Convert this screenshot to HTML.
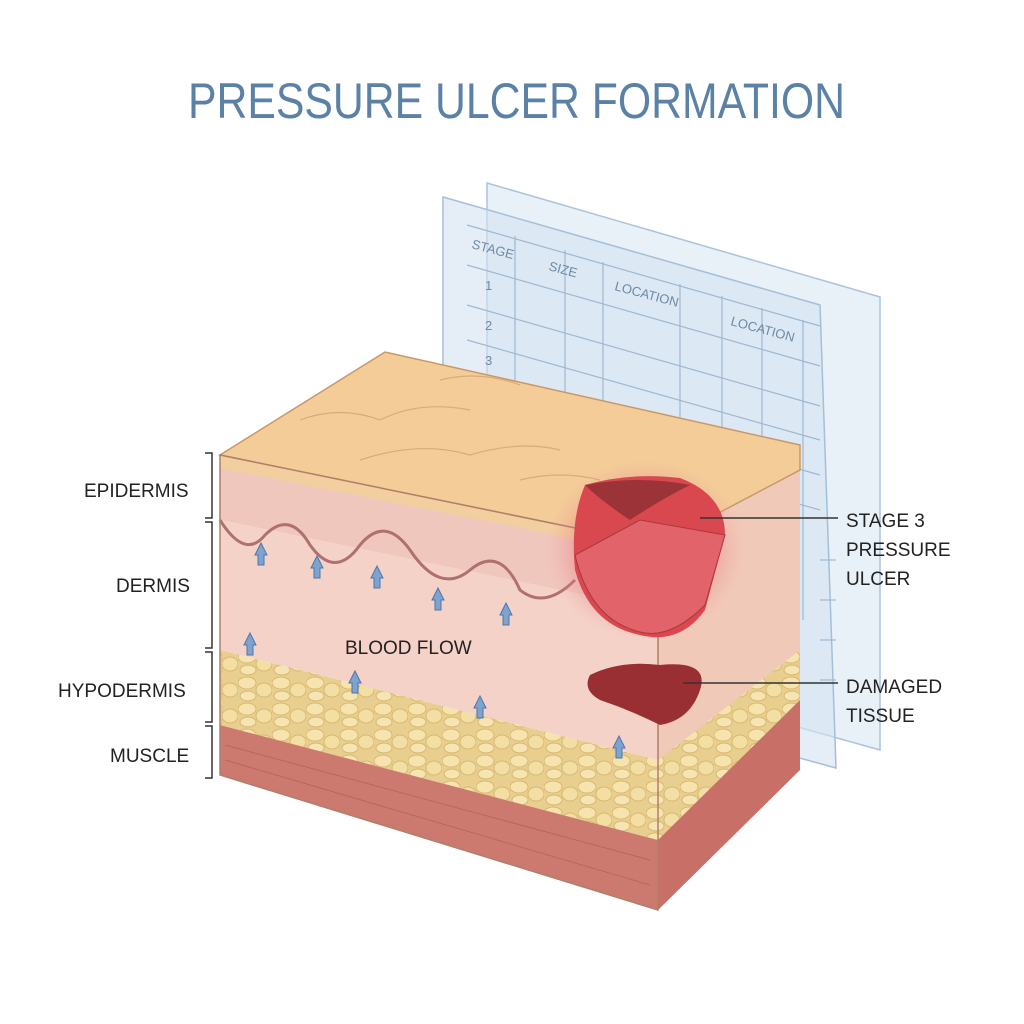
<!DOCTYPE html>
<html><head><meta charset="utf-8"><style>
body{margin:0;background:#fff;}
svg{display:block}
text{font-family:"Liberation Sans",sans-serif;}
</style></head><body>
<svg width="1024" height="1024" viewBox="0 0 1024 1024" xmlns="http://www.w3.org/2000/svg">
<defs>
<radialGradient id="ulc" cx="0.5" cy="0.5" r="0.5">
<stop offset="0" stop-color="#e0414a" stop-opacity="0.85"/>
<stop offset="0.6" stop-color="#e8646a" stop-opacity="0.5"/>
<stop offset="1" stop-color="#f0a0a0" stop-opacity="0"/>
</radialGradient>
<pattern id="fat" width="34" height="26" patternUnits="userSpaceOnUse">
<rect width="34" height="26" fill="#e9cf8f"/>
<ellipse cx="9" cy="7" rx="9" ry="6" fill="#f6e3ad" stroke="#d8b870" stroke-width="1"/>
<ellipse cx="26" cy="14" rx="8" ry="7" fill="#f3dea4" stroke="#d8b870" stroke-width="1"/>
<ellipse cx="10" cy="20" rx="8" ry="5" fill="#f6e5b2" stroke="#d8b870" stroke-width="1"/>
</pattern>
</defs>
<rect width="1024" height="1024" fill="#fff"/>
<text x="188" y="118" textLength="657" lengthAdjust="spacingAndGlyphs" font-size="50" fill="#5b82a6">PRESSURE ULCER FORMATION</text>

<!-- sheets -->
<polygon points="487,183 880,297 880,750 487,640" fill="#dbe7f3" fill-opacity="0.6" stroke="#aac4dc" stroke-width="1.5"/>
<polygon points="443,197 820,305 836,768 443,660" fill="#d4e3f1" fill-opacity="0.6" stroke="#a5bfd8" stroke-width="1.5"/>
<g stroke="#9fb8d2" stroke-width="1.2" fill="none">
<line x1="467" y1="225" x2="820" y2="326"/>
<line x1="467" y1="265" x2="820" y2="366"/>
<line x1="467" y1="305" x2="820" y2="406"/>
<line x1="467" y1="340" x2="820" y2="440"/>
<line x1="467" y1="375" x2="820" y2="475"/>
<line x1="467" y1="410" x2="820" y2="510"/>
<line x1="515" y1="236" x2="515" y2="400"/>
<line x1="565" y1="250" x2="565" y2="400"/>
<line x1="603" y1="262" x2="603" y2="420"/>
<line x1="680" y1="284" x2="680" y2="440"/>
<line x1="722" y1="296" x2="722" y2="460"/>
<line x1="762" y1="308" x2="762" y2="470"/>
<line x1="803" y1="320" x2="803" y2="620"/>
<line x1="820" y1="560" x2="836" y2="560"/>
<line x1="820" y1="600" x2="836" y2="600"/>
<line x1="820" y1="640" x2="836" y2="640"/>
<line x1="820" y1="680" x2="836" y2="680"/>
</g>
<g fill="#6f8aa6" font-size="13">
<text x="471" y="248" transform="rotate(15 471 248)">STAGE</text>
<text x="548" y="270" transform="rotate(15 548 270)">SIZE</text>
<text x="614" y="290" transform="rotate(15 614 290)">LOCATION</text>
<text x="730" y="325" transform="rotate(15 730 325)">LOCATION</text>
<text x="485" y="290">1</text><text x="485" y="330">2</text><text x="485" y="365">3</text>
</g>

<!-- block: right side -->
<polygon points="658,545 800,470 800,770 658,910" fill="#f1c9b9"/>
<polygon points="658,760 800,650 800,700 658,840" fill="url(#fat)"/>
<polygon points="658,840 800,700 800,770 658,910" fill="#c86f68"/>
<!-- top face -->
<polygon points="220,455 385,352 800,445 800,470 658,545" fill="#f3cc98" stroke="#c99868" stroke-width="1.5"/>
<g stroke="#d9ab78" stroke-width="1.2" fill="none">
<path d="M300,420 Q340,405 380,420 Q420,400 470,410"/>
<path d="M360,460 Q420,440 470,455 Q520,440 560,450"/>
<path d="M440,380 Q480,370 520,385"/>
<path d="M520,480 Q560,470 600,480"/>
</g>
<!-- front face layers -->
<polygon points="220,455 658,545 658,610 220,520" fill="#f0c7bd"/>
<polygon points="220,455 658,545 658,555 220,468" fill="#f3cfa0"/>
<polygon points="220,520 658,610 658,760 220,650" fill="#f4d2c8"/>
<polygon points="220,650 658,760 658,840 220,725" fill="url(#fat)"/>
<polygon points="220,725 658,840 658,910 220,775" fill="#cc7a70"/>
<g stroke="#a8504c" stroke-width="1" opacity="0.5">
<line x1="225" y1="745" x2="650" y2="860"/><line x1="225" y1="760" x2="650" y2="885"/>
</g>
<path d="M220,520 Q245,560 265,535 Q290,510 310,545 Q335,580 360,545 Q385,515 410,550 Q440,595 470,570 Q500,545 520,590 Q545,610 575,580" stroke="#b07070" stroke-width="3" fill="none"/>
<polygon points="220,455 658,545 658,910 220,775" fill="none" stroke="#b07e6a" stroke-width="1.5"/>
<!-- ulcer -->
<ellipse cx="645" cy="550" rx="100" ry="90" fill="url(#ulc)"/>
<path d="M585,485 Q630,472 680,478 Q725,495 725,535 L705,610 Q680,645 640,635 Q590,625 575,570 Q570,520 585,485Z" fill="#d9484e"/>
<path d="M585,485 Q640,475 690,485 Q660,500 630,520 Q600,500 585,485Z" fill="#9c3338"/>
<path d="M575,555 L640,520 L725,535 L705,605 Q670,640 640,632 Q590,620 575,555Z" fill="#e2636a" stroke="#a8393d" stroke-width="1"/>
<!-- damaged tissue -->
<path d="M590,675 Q620,660 660,665 Q710,660 700,690 Q690,720 660,725 Q630,710 600,700 Q582,690 590,675Z" fill="#9a2f33"/>
<!-- arrows -->
<g fill="#7ea3cf" stroke="#4f76a8" stroke-width="1">
<path d="M255,555 l6,-12 l6,12 h-3 v10 h-6 v-10z"/>
<path d="M311,568 l6,-12 l6,12 h-3 v10 h-6 v-10z"/>
<path d="M371,578 l6,-12 l6,12 h-3 v10 h-6 v-10z"/>
<path d="M432,600 l6,-12 l6,12 h-3 v10 h-6 v-10z"/>
<path d="M500,615 l6,-12 l6,12 h-3 v10 h-6 v-10z"/>
<path d="M244,645 l6,-12 l6,12 h-3 v10 h-6 v-10z"/>
<path d="M349,683 l6,-12 l6,12 h-3 v10 h-6 v-10z"/>
<path d="M474,708 l6,-12 l6,12 h-3 v10 h-6 v-10z"/>
<path d="M613,748 l6,-12 l6,12 h-3 v10 h-6 v-10z"/>
</g>
<text x="345" y="654" font-size="19" fill="#222">BLOOD FLOW</text>
<!-- labels -->
<g fill="#222" font-size="19">
<text x="84" y="497">EPIDERMIS</text>
<text x="116" y="592">DERMIS</text>
<text x="58" y="697">HYPODERMIS</text>
<text x="110" y="762">MUSCLE</text>
<text x="846" y="527">STAGE 3</text>
<text x="846" y="556">PRESSURE</text>
<text x="846" y="585">ULCER</text>
<text x="846" y="693">DAMAGED</text>
<text x="846" y="722">TISSUE</text>
</g>
<g stroke="#333" stroke-width="1.5" fill="none">
<path d="M205,453 h7 v65 h-7"/>
<path d="M205,522 h7 v126 h-7"/>
<path d="M205,652 h7 v70 h-7"/>
<path d="M205,726 h7 v52 h-7"/>
<line x1="700" y1="518" x2="838" y2="518"/>
<line x1="683" y1="683" x2="838" y2="683"/>
</g>
</svg>
</body></html>
